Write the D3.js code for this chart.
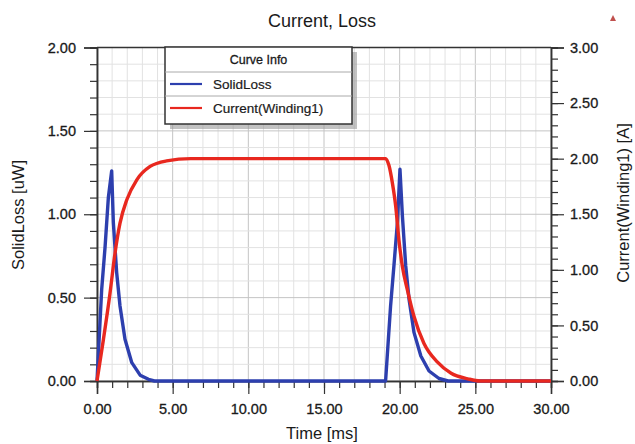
<!DOCTYPE html>
<html>
<head>
<meta charset="utf-8">
<script src="https://cdn.jsdelivr.net/npm/d3@7"></script>
<style>
  body { margin: 0; background: #fff; }
  svg text { font-family: "Liberation Sans", Arial, sans-serif; fill: #1a1a1a; }
</style>
</head>
<body>
<div id="chart"></div>
<script>
// tiempos y valores
const timeLoss = [0, 0.31, 0.53, 0.75, 0.97, 1.08, 1.30, 1.52, 1.85, 2.3, 2.85, 3.4, 3.8,
                  19.07, 19.40, 19.62, 19.85, 20.02, 20.18, 20.4, 20.62, 20.95, 21.4, 21.94, 22.6, 23.2, 30];
const lossValues = [0, 0.55, 0.80, 1.10, 1.26, 0.95, 0.65, 0.45, 0.25, 0.11, 0.035, 0.01, 0,
                    0, 0.45, 0.69, 0.95, 1.27, 0.99, 0.69, 0.49, 0.29, 0.15, 0.06, 0.015, 0, 0];

const timeCurrent = [0, 0.42, 0.86, 1.19, 1.52, 1.97, 2.63, 3.51, 4.6, 6.2,
                     19.07, 19.29, 19.52, 19.74, 19.95, 20.18, 20.51, 20.95, 21.6, 22.5, 23.4, 24.5, 25.3, 30];
const currentValues = [0, 0.37, 0.79, 1.15, 1.42, 1.63, 1.81, 1.93, 1.98, 2.0,
                       2.0, 1.94, 1.78, 1.57, 1.27, 1.03, 0.82, 0.58, 0.34, 0.17, 0.07, 0.02, 0, 0];

const xTicks = [0, 5, 10, 15, 20, 25, 30];
const yLeftTicks = [0, 0.5, 1.0, 1.5, 2.0];
const yRightTicks = [0, 0.5, 1.0, 1.5, 2.0, 2.5, 3.0];
const legendNames = ["SolidLoss", "Current(Winding1)"];

const width = 635, height = 444;
const mLeft = 97, mRight = 551, mTop = 47.5, mBottom = 381;

const x = d3.scaleLinear().domain([0, 30]).range([mLeft, mRight]);
const yL = d3.scaleLinear().domain([0, 2]).range([mBottom, mTop]);
const yR = d3.scaleLinear().domain([0, 3]).range([mBottom, mTop]);
const blue = "#2d3fae", red = "#e8281f";
const fmt = d3.format(".2f");

const svg = d3.select("#chart").append("svg")
    .attr("width", width).attr("height", height);

// Rejilla
const minorX = d3.range(0, 30.01, 1);
const minorY = d3.range(0, 2.001, 0.1);
svg.append("g").selectAll("line").data(minorX).enter().append("line")
    .attr("x1", d => x(d)).attr("x2", d => x(d))
    .attr("y1", mTop).attr("y2", mBottom)
    .attr("stroke", d => d % 5 === 0 ? "#c4c4c4" : "#e2e2e2")
    .attr("stroke-width", 1);
svg.append("g").selectAll("line").data(minorY).enter().append("line")
    .attr("x1", mLeft).attr("x2", mRight)
    .attr("y1", d => yL(d)).attr("y2", d => yL(d))
    .attr("stroke", (d, i) => i % 5 === 0 ? "#c4c4c4" : "#e2e2e2")
    .attr("stroke-width", 1);

// Ejes
const axisX = svg.append("g").attr("transform", `translate(0,${mBottom})`);
axisX.call(d3.axisBottom(x).tickValues(minorX).tickSize(7).tickFormat(""));
axisX.call(g => g.append("g").call(d3.axisBottom(x).tickValues(xTicks).tickSize(13).tickFormat(fmt)));

const axisL = svg.append("g").attr("transform", `translate(${mLeft},0)`);
axisL.call(d3.axisLeft(yL).tickValues(minorY).tickSize(7).tickFormat(""));
axisL.call(g => g.append("g").call(d3.axisLeft(yL).tickValues(yLeftTicks).tickSize(13).tickFormat(fmt)));

const axisR = svg.append("g").attr("transform", `translate(${mRight},0)`);
axisR.call(d3.axisRight(yR).tickValues(d3.range(0, 3.001, 0.1)).tickSize(7).tickFormat(""));
axisR.call(g => g.append("g").call(d3.axisRight(yR).tickValues(yRightTicks).tickSize(13).tickFormat(fmt)));

svg.selectAll(".domain").attr("stroke", "#333").attr("stroke-width", 1.5);
svg.selectAll(".tick line").attr("stroke", "#333").attr("stroke-width", 1.2);
svg.selectAll(".tick text").style("font-size", "14.5px")
    .attr("fill", "#1a1a1a").attr("stroke", "#1a1a1a").attr("stroke-width", 0.3);
axisX.selectAll(".tick text").attr("dy", "1.2em");
axisL.selectAll(".tick text").attr("x", -21);
axisR.selectAll(".tick text").attr("x", 19);

// borde superior
svg.append("line").attr("x1", mLeft).attr("x2", mRight).attr("y1", mTop).attr("y2", mTop)
    .attr("stroke", "#333").attr("stroke-width", 1.5);

// Curvas
const lossData = timeLoss.map((t, i) => ({t: t, v: lossValues[i]}));
const currData = timeCurrent.map((t, i) => ({t: t, v: currentValues[i]}));

svg.append("path").datum(lossData)
    .attr("fill", "none").attr("stroke", blue).attr("stroke-width", 3.4)
    .attr("stroke-linejoin", "round")
    .attr("d", d3.line().x(d => x(d.t)).y(d => yL(d.v)));

svg.append("path").datum(currData)
    .attr("fill", "none").attr("stroke", red).attr("stroke-width", 3.4)
    .attr("d", d3.line().curve(d3.curveMonotoneX).x(d => x(d.t)).y(d => yR(d.v)));

// Leyenda
const lg = {x: 165, y: 47, w: 187, h: 77};
svg.append("rect").attr("x", lg.x + 5).attr("y", lg.y + 5).attr("width", lg.w).attr("height", lg.h)
    .attr("fill", "#9a9a9a").attr("opacity", 0.6);
svg.append("rect").attr("x", lg.x).attr("y", lg.y).attr("width", lg.w).attr("height", lg.h)
    .attr("fill", "#fff").attr("stroke", "#333").attr("stroke-width", 1.5);
[72, 96].forEach(yy => svg.append("line").attr("x1", lg.x).attr("x2", lg.x + lg.w)
    .attr("y1", yy).attr("y2", yy).attr("stroke", "#aaa").attr("stroke-width", 1));
svg.append("text").attr("x", lg.x + lg.w / 2).attr("y", 64).attr("text-anchor", "middle")
    .style("font-size", "12.5px").attr("stroke", "#1a1a1a").attr("stroke-width", 0.3)
    .text("Curve Info");
legendNames.forEach((name, i) => {
  const yy = 84 + i * 24;
  svg.append("line").attr("x1", 170).attr("x2", 202).attr("y1", yy).attr("y2", yy)
    .attr("stroke", i === 0 ? blue : red).attr("stroke-width", 2.2);
  svg.append("text").attr("x", 213).attr("y", yy + 5)
    .style("font-size", "13.5px").attr("stroke", "#1a1a1a").attr("stroke-width", 0.2)
    .text(name);
});

// Titulo y etiquetas
svg.append("text").attr("x", 322).attr("y", 27).attr("text-anchor", "middle")
    .style("font-size", "18px").text("Current, Loss");
svg.append("text").attr("x", 322).attr("y", 439).attr("text-anchor", "middle")
    .style("font-size", "16.5px").text("Time [ms]");
svg.append("text").attr("transform", "translate(24,215) rotate(-90)").attr("text-anchor", "middle")
    .style("font-size", "16.5px").text("SolidLoss [uW]");
svg.append("text").attr("transform", "translate(629,203) rotate(-90)").attr("text-anchor", "middle")
    .style("font-size", "16.5px").text("Current(Winding1) [A]");

// triangulo
svg.append("path").attr("d", "M610,21 L616,21 L613,15 Z").attr("fill", "#c0504d");
</script>
</body>
</html>
